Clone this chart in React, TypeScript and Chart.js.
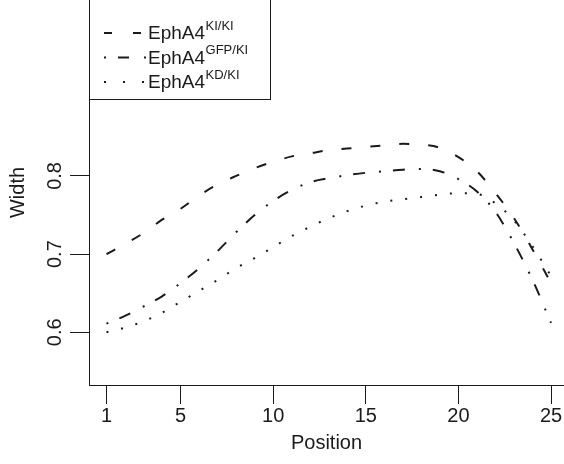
import React, { useEffect, useRef } from 'react';
import { Chart, registerables } from 'chart.js';

Chart.register(...registerables);

// ---- data ----
const positions = [1, 2, 3, 4, 5, 6, 7, 8, 9, 10, 11, 12, 13, 14, 15, 16, 17, 18, 19, 20, 21, 22, 23, 24, 25];
const widthKiKi = [0.700, 0.713, 0.727, 0.744, 0.758, 0.775, 0.789, 0.800, 0.810, 0.818, 0.825, 0.829, 0.833, 0.835, 0.837, 0.839, 0.841, 0.840, 0.836, 0.824, 0.806, 0.778, 0.746, 0.706, 0.663];
const widthGfpKi = [0.611, 0.621, 0.633, 0.646, 0.663, 0.682, 0.704, 0.728, 0.750, 0.768, 0.782, 0.792, 0.797, 0.801, 0.804, 0.806, 0.808, 0.809, 0.806, 0.796, 0.780, 0.754, 0.714, 0.667, 0.612];
const widthKdKi = [0.600, 0.606, 0.614, 0.625, 0.639, 0.653, 0.667, 0.682, 0.695, 0.709, 0.723, 0.735, 0.746, 0.755, 0.762, 0.767, 0.770, 0.773, 0.776, 0.778, 0.777, 0.765, 0.743, 0.710, 0.672];
const xTickValues = [1, 5, 10, 15, 20, 25];
const yTickValues = [0.6, 0.7, 0.8];
const seriesNames = ['EphA4', 'EphA4', 'EphA4'];
const seriesSups = ['KI/KI', 'GFP/KI', 'KD/KI'];
const xTitle = 'Position';
const yTitle = 'Width';

const FONT = '"Liberation Sans", Arial, Helvetica, sans-serif';
const INK = '#1a1a1a';

const dashKi = [10, 19];
const dashGfp = [2, 12, 12, 14];
const dashKd = [2, 13];
const legendDashes = [[8, 21], [2, 12, 11, 15], [2, 17]];

const legendPlugin = {
  id: 'rLegend',
  afterDraw(chart: any) {
    const ctx = chart.ctx;
    ctx.save();
    ctx.strokeStyle = INK;
    ctx.lineWidth = 1;
    ctx.setLineDash([]);
    ctx.strokeRect(89.5, -5, 181, 104.5);
    const rows = [33, 57.5, 82];
    rows.forEach((ry, i) => {
      ctx.save();
      ctx.lineWidth = 2;
      ctx.lineCap = 'butt';
      ctx.setLineDash(legendDashes[i]);
      ctx.beginPath();
      ctx.moveTo(104, ry);
      ctx.lineTo(146, ry);
      ctx.stroke();
      ctx.restore();
      ctx.fillStyle = INK;
      ctx.textBaseline = 'middle';
      ctx.textAlign = 'left';
      ctx.font = `19px ${FONT}`;
      ctx.fillText(seriesNames[i], 148, ry + 1);
      const w = ctx.measureText(seriesNames[i]).width;
      ctx.font = `13px ${FONT}`;
      ctx.fillText(seriesSups[i], 148 + w + 0.5, ry - 7);
    });
    ctx.restore();
  },
};

const noPad = (s: any) => {
  s.paddingTop = 0;
  s.paddingBottom = 0;
  s.paddingLeft = 0;
  s.paddingRight = 0;
};

export default function App() {
  const ref = useRef<HTMLCanvasElement | null>(null);
  useEffect(() => {
    if (!ref.current) return;
    const mk = (ys: number[]) => positions.map((p, i) => ({ x: p, y: ys[i] }));
    const common = {
      borderColor: INK,
      borderWidth: 2,
      pointRadius: 0,
      fill: false,
      cubicInterpolationMode: 'monotone' as const,
      borderCapStyle: 'butt' as const,
    };
    const chart = new Chart(ref.current, {
      type: 'line',
      data: {
        datasets: [
          { ...common, label: seriesNames[0] + seriesSups[0], data: mk(widthKiKi), borderDash: dashKi },
          { ...common, label: seriesNames[1] + seriesSups[1], data: mk(widthGfpKi), borderDash: dashGfp },
          { ...common, label: seriesNames[2] + seriesSups[2], data: mk(widthKdKi), borderDash: dashKd },
        ],
      },
      options: {
        animation: false,
        responsive: false,
        devicePixelRatio: 1,
        layout: { padding: 0 },
        plugins: { legend: { display: false }, tooltip: { enabled: false } },
        scales: {
          x: {
            type: 'linear',
            min: 0.056,
            max: 25.7,
            afterBuildTicks: (s: any) => { s.ticks = xTickValues.map((v) => ({ value: v })); },
            afterFit: (s: any) => { s.height = 79; noPad(s); },
            grid: { display: true, drawOnChartArea: false, drawTicks: true, tickLength: 19, color: INK, lineWidth: 1 },
            border: { display: true, color: INK, width: 1 },
            ticks: { color: INK, font: { family: FONT, size: 20 }, padding: 0, maxRotation: 0, autoSkip: false, callback: (v: any) => String(v) },
            title: { display: true, text: xTitle, color: INK, font: { family: FONT, size: 20 }, padding: { top: 0, bottom: 9 } },
          },
          y: {
            type: 'linear',
            min: 0.5326,
            max: 1.025,
            afterBuildTicks: (s: any) => { s.ticks = yTickValues.map((v) => ({ value: v })); },
            afterFit: (s: any) => { s.width = 89; noPad(s); },
            grid: { display: true, drawOnChartArea: false, drawTicks: true, tickLength: 19, color: INK, lineWidth: 1 },
            border: { display: true, color: INK, width: 1 },
            ticks: { color: INK, font: { family: FONT, size: 20 }, padding: 1, minRotation: 90, maxRotation: 90, crossAlign: 'center', autoSkip: false, callback: (v: any) => Number(v).toFixed(1) },
            title: { display: true, text: yTitle, color: INK, font: { family: FONT, size: 20 }, padding: { top: 6.5, bottom: 0 } },
          },
        },
      },
      plugins: [legendPlugin],
    });
    return () => chart.destroy();
  }, []);
  return (
    <div style={{ position: 'absolute', left: 0, top: 0, width: 564, height: 464, background: '#fff' }}>
      <canvas ref={ref} width={564} height={464} style={{ display: 'block', width: 564, height: 464 }} />
    </div>
  );
}
